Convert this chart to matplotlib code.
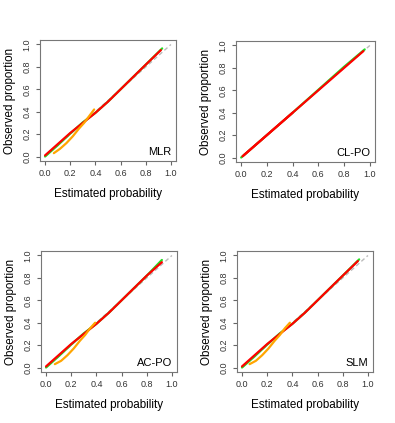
import numpy as np
import matplotlib.pyplot as plt

plt.rcParams['font.family'] = ['Liberation Sans', 'DejaVu Sans']

panels = ["MLR", "CL-PO", "AC-PO", "SLM"]

# calibration curves (estimated prob, observed proportion)
mlr_orange_x = [0.07, 0.12, 0.17, 0.22, 0.27, 0.31, 0.35, 0.39]
mlr_orange_y = [0.03, 0.07, 0.12, 0.18, 0.25, 0.30, 0.36, 0.42]
mlr_green_x = [0.00, 0.10, 0.20, 0.30, 0.40, 0.50, 0.60, 0.70, 0.80, 0.93]
mlr_green_y = [0.00, 0.10, 0.205, 0.305, 0.39, 0.49, 0.60, 0.71, 0.82, 0.965]
mlr_red_x = [0.00, 0.05, 0.10, 0.20, 0.30, 0.40, 0.50, 0.60, 0.70, 0.80, 0.92]
mlr_red_y = [0.01, 0.06, 0.11, 0.21, 0.30, 0.39, 0.49, 0.60, 0.71, 0.82, 0.95]

clpo_orange_x = [0.02, 0.20, 0.40]
clpo_orange_y = [0.02, 0.20, 0.40]
clpo_green_x = [0.00, 0.20, 0.40, 0.60, 0.80, 0.96]
clpo_green_y = [0.00, 0.20, 0.40, 0.605, 0.81, 0.965]
clpo_red_x = [0.01, 0.20, 0.40, 0.60, 0.80, 0.95]
clpo_red_y = [0.01, 0.20, 0.40, 0.60, 0.80, 0.95]

acpo_orange_x = [0.07, 0.12, 0.17, 0.22, 0.27, 0.31, 0.35, 0.39]
acpo_orange_y = [0.03, 0.06, 0.11, 0.17, 0.24, 0.29, 0.35, 0.40]
acpo_green_x = [0.00, 0.10, 0.20, 0.30, 0.40, 0.50, 0.60, 0.70, 0.80, 0.92]
acpo_green_y = [0.00, 0.10, 0.205, 0.305, 0.39, 0.49, 0.60, 0.71, 0.82, 0.96]
acpo_red_x = [0.00, 0.05, 0.10, 0.20, 0.30, 0.40, 0.50, 0.60, 0.70, 0.80, 0.92]
acpo_red_y = [0.01, 0.06, 0.11, 0.21, 0.30, 0.39, 0.49, 0.60, 0.71, 0.82, 0.94]

slm_orange_x = [0.06, 0.11, 0.16, 0.21, 0.26, 0.30, 0.34, 0.38]
slm_orange_y = [0.03, 0.06, 0.11, 0.17, 0.24, 0.29, 0.35, 0.40]
slm_green_x = [0.00, 0.10, 0.20, 0.30, 0.40, 0.50, 0.60, 0.70, 0.80, 0.93]
slm_green_y = [0.00, 0.10, 0.205, 0.305, 0.39, 0.49, 0.60, 0.71, 0.82, 0.965]
slm_red_x = [0.00, 0.05, 0.10, 0.20, 0.30, 0.40, 0.50, 0.60, 0.70, 0.80, 0.92]
slm_red_y = [0.01, 0.06, 0.11, 0.21, 0.30, 0.39, 0.49, 0.60, 0.71, 0.82, 0.95]

curves = {
    "MLR": [(mlr_green_x, mlr_green_y), (mlr_red_x, mlr_red_y), (mlr_orange_x, mlr_orange_y)],
    "CL-PO": [(clpo_green_x, clpo_green_y), (clpo_red_x, clpo_red_y), (clpo_orange_x, clpo_orange_y)],
    "AC-PO": [(acpo_green_x, acpo_green_y), (acpo_red_x, acpo_red_y), (acpo_orange_x, acpo_orange_y)],
    "SLM": [(slm_green_x, slm_green_y), (slm_red_x, slm_red_y), (slm_orange_x, slm_orange_y)],
}
colors = ["#22DD22", "#FF0000", "#FFA500"]
ticks = [0.0, 0.2, 0.4, 0.6, 0.8, 1.0]
tick_labels = ["0.0", "0.2", "0.4", "0.6", "0.8", "1.0"]

W, H = 395, 423
# axes boxes in pixels: left, top, right, bottom
boxes = [(40, 40, 176, 161), (236, 41, 375, 162), (41, 251, 177, 372), (237, 251, 373, 372)]

fig = plt.figure(figsize=(W / 100, H / 100), dpi=100)
for name, (l, t, r, b) in zip(panels, boxes):
    ax = fig.add_axes([l / W, 1 - b / H, (r - l) / W, (b - t) / H])
    ax.plot([0, 1], [0, 1], color="#BBBBBB", lw=1.0, ls=(0, (3, 2)))
    for (x, y), c in zip(curves[name], colors):
        if name == "CL-PO" and c == "#FFA500":
            c = "#FF0000"  # orange curve hidden under red here
        ax.plot(x, y, color=c, lw=1.6, solid_capstyle="round")
    ax.set_xlim(-0.04, 1.04)
    ax.set_ylim(-0.04, 1.04)
    ax.set_xticks(ticks)
    ax.set_xticklabels(tick_labels)
    ax.set_yticks(ticks)
    ax.set_yticklabels(tick_labels, rotation=90, va="center")
    ax.tick_params(direction="out", length=3, width=0.8, color="#666666",
                   labelsize=6.5, labelcolor="#333333", pad=3)
    for s in ax.spines.values():
        s.set_color("#777777")
        s.set_linewidth(0.8)
    ax.set_xlabel("Estimated probability", fontsize=8.4, labelpad=7)
    ax.set_ylabel("Observed proportion", fontsize=8.4, labelpad=5)
    ax.text(0.965, 0.035, name, transform=ax.transAxes, ha="right", va="bottom",
            fontsize=8)

fig.savefig("out.png", dpi=100)
